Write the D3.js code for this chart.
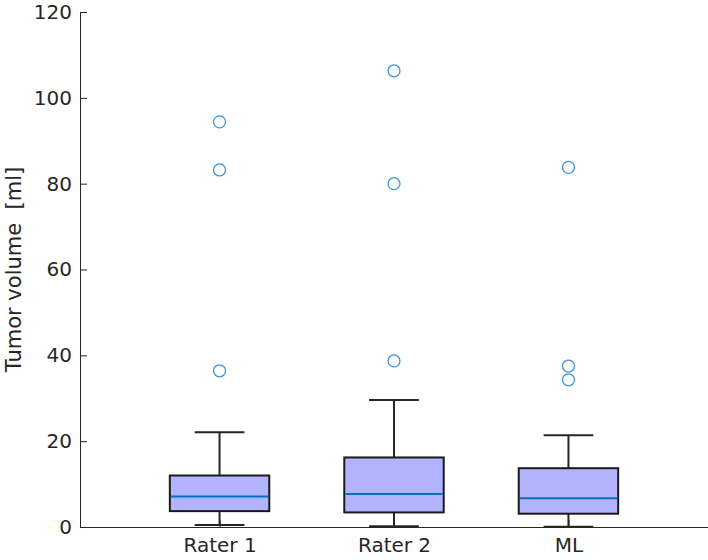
<!DOCTYPE html>
<html lang="en">
<head>
<meta charset="UTF-8">
<title>Tumor volume</title>
<style>
    body { margin: 0; background: #fff; }
    svg { display: block; }
    svg text { font-family: 'DejaVu Sans', sans-serif; }
</style>
</head>
<body>
<svg width="708" height="560"></svg>
<script src="https://d3js.org/d3.v7.min.js"></script>
<script>
// box statistics
const categories = ['Rater 1', 'Rater 2', 'ML'];
const q1 = [3.7, 3.4, 3.1];
const medians = [7.1, 7.7, 6.7];
const q3 = [12.0, 16.2, 13.7];
const whiskerLow = [0.45, 0.15, 0.05];
const whiskerHigh = [22.1, 29.6, 21.4];
const outliers = [[94.4, 83.2, 36.4], [106.3, 80.0, 38.7], [83.8, 37.5, 34.3]];
const yTicks = [0, 20, 40, 60, 80, 100, 120];

const svg = d3.select('svg');
const margin = {left: 80, right: 0, top: 12, bottom: 33};
const width = 708, height = 560;

const x = d3.scaleLinear().domain([0.2, 3.8]).range([margin.left, width - margin.right]);
const y = d3.scaleLinear().domain([0, 120]).range([height - margin.bottom, margin.top]);

const boxW = 0.57;
const capW = boxW / 2;

const data = categories.map((c, i) => ({
    name: c, pos: i + 1,
    q1: q1[i], med: medians[i], q3: q3[i],
    lo: whiskerLow[i], hi: whiskerHigh[i], out: outliers[i]
}));

// axes
const yAxis = svg.append('g')
    .attr('transform', `translate(${margin.left},0)`)
    .call(d3.axisLeft(y).tickValues(yTicks).tickSizeInner(-7).tickSizeOuter(0).tickPadding(8));
yAxis.attr('font-family', null);
yAxis.select('.domain').attr('stroke', '#262626');
yAxis.selectAll('.tick line').attr('stroke', '#262626');
yAxis.selectAll('text').attr('font-size', 20).attr('fill', '#262626');

const xAxis = svg.append('g')
    .attr('transform', `translate(0,${y(0)})`)
    .call(d3.axisBottom(x).tickValues([1, 2, 3]).tickFormat(d => categories[d - 1])
        .tickSizeInner(-7).tickSizeOuter(0).tickPadding(11));
xAxis.attr('font-family', null);
xAxis.select('.domain').attr('stroke', '#262626');
xAxis.selectAll('.tick line').attr('stroke', '#262626');
xAxis.selectAll('text').attr('font-size', 20).attr('fill', '#262626');

svg.append('text')
    .attr('transform', `translate(21,${(y(0) + y(120)) / 2}) rotate(-90)`)
    .attr('text-anchor', 'middle')
    .attr('font-size', 21)
    .attr('fill', '#262626')
    .attr('xml:space', 'preserve')
    .text('Tumor volume  [ml]');

const g = svg.append('g');
const boxes = g.selectAll('.box').data(data).join('g').attr('class', 'box');

// whiskers
boxes.append('line')
    .attr('x1', d => x(d.pos)).attr('x2', d => x(d.pos))
    .attr('y1', d => y(d.q3)).attr('y2', d => y(d.hi))
    .attr('stroke', '#262626').attr('stroke-width', 2);
boxes.append('line')
    .attr('x1', d => x(d.pos)).attr('x2', d => x(d.pos))
    .attr('y1', d => y(d.q1)).attr('y2', d => y(d.lo))
    .attr('stroke', '#262626').attr('stroke-width', 2);
boxes.append('line')
    .attr('x1', d => x(d.pos - capW / 2)).attr('x2', d => x(d.pos + capW / 2))
    .attr('y1', d => y(d.hi)).attr('y2', d => y(d.hi))
    .attr('stroke', '#262626').attr('stroke-width', 2);
boxes.append('line')
    .attr('x1', d => x(d.pos - capW / 2)).attr('x2', d => x(d.pos + capW / 2))
    .attr('y1', d => y(d.lo)).attr('y2', d => y(d.lo))
    .attr('stroke', '#262626').attr('stroke-width', 2);

// box
boxes.append('rect')
    .attr('x', d => x(d.pos - boxW / 2))
    .attr('width', d => x(d.pos + boxW / 2) - x(d.pos - boxW / 2))
    .attr('y', d => y(d.q3))
    .attr('height', d => y(d.q1) - y(d.q3))
    .attr('fill', '#b3b3ff')
    .attr('stroke', '#1a1a1a').attr('stroke-width', 2);

// median
boxes.append('line')
    .attr('x1', d => x(d.pos - boxW / 2) + 1).attr('x2', d => x(d.pos + boxW / 2) - 1)
    .attr('y1', d => y(d.med)).attr('y2', d => y(d.med))
    .attr('stroke', '#0072bd').attr('stroke-width', 2);

// outliers
boxes.selectAll('circle')
    .data(d => d.out.map(v => ({pos: d.pos, v})))
    .join('circle')
    .attr('cx', d => x(d.pos))
    .attr('cy', d => y(d.v))
    .attr('r', 6)
    .attr('fill', 'none')
    .attr('stroke', '#3d93d6').attr('stroke-width', 1.3);
</script>
</body>
</html>
